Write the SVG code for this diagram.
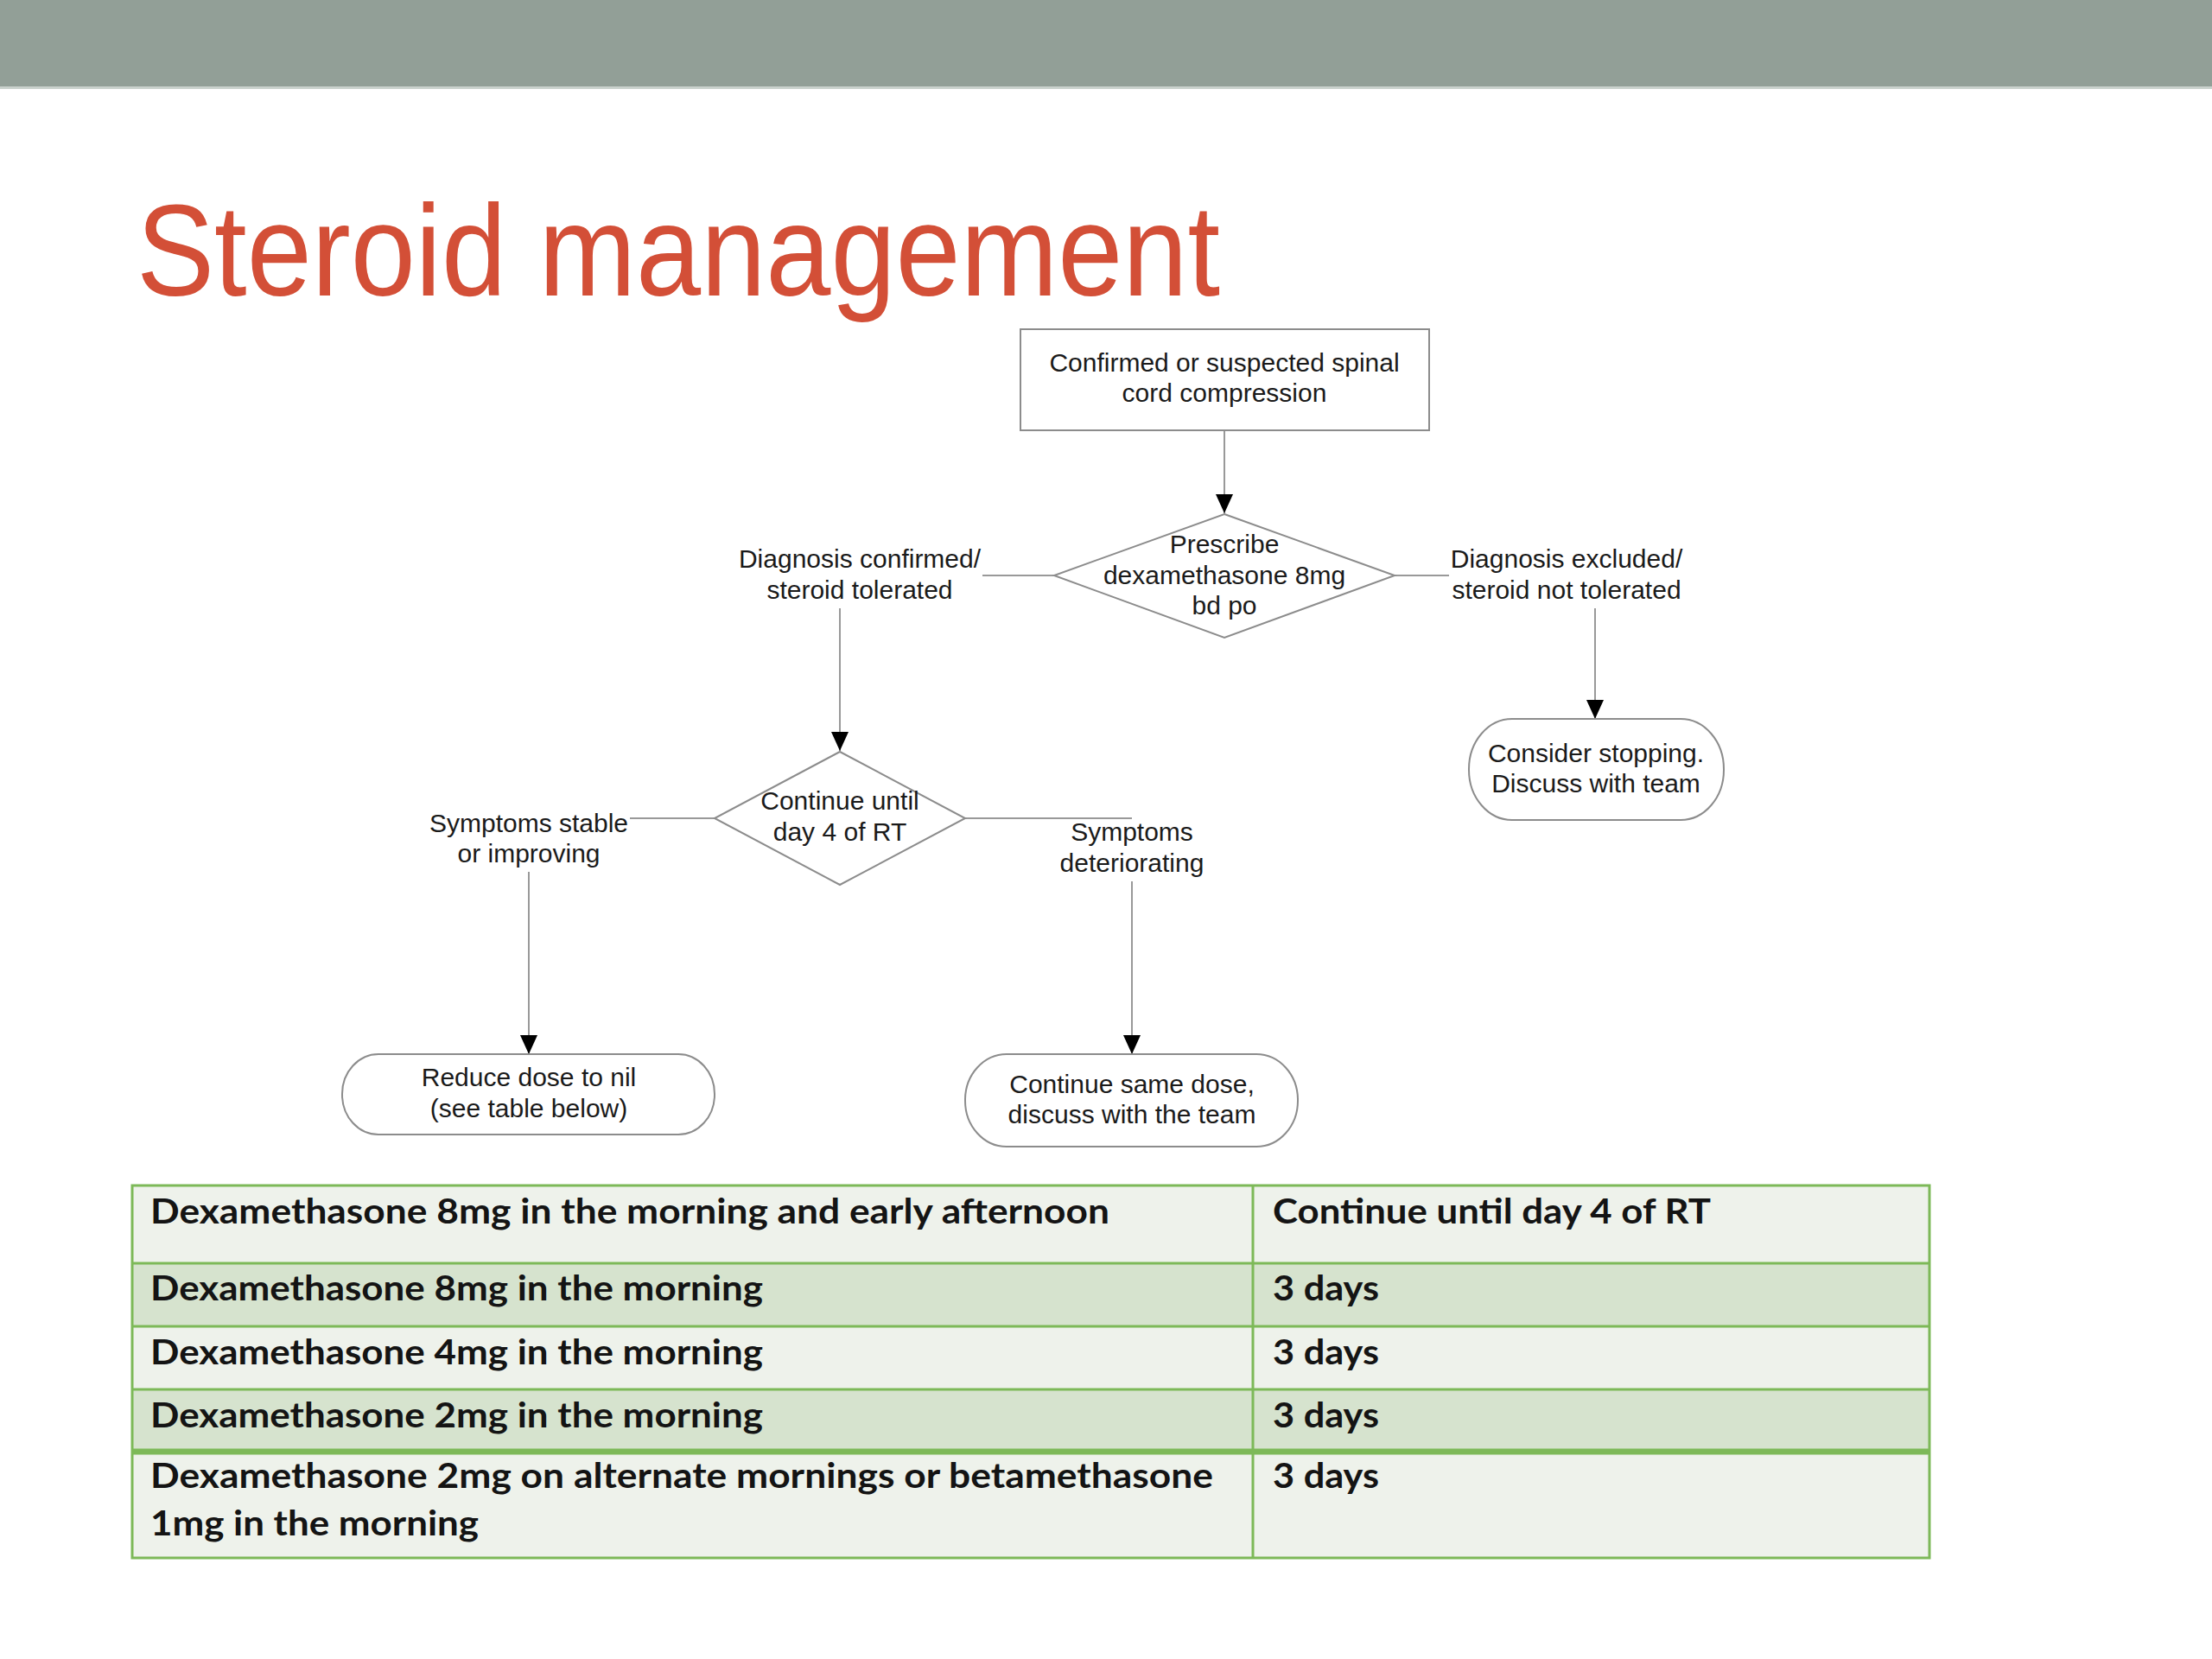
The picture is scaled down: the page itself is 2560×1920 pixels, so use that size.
<svg xmlns="http://www.w3.org/2000/svg" width="2560" height="1920" viewBox="0 0 2560 1920">
<defs>
<style>
.node{fill:#fff;stroke:#8c8c8c;stroke-width:2}
.lbl{font-family:"Liberation Sans",Arial,sans-serif;font-size:30px;fill:#1a1a1a;text-anchor:middle}
.conn{fill:none;stroke:#999;stroke-width:2}
.tt{font-family:Lato,"Open Sans",sans-serif;font-weight:700;font-size:40px;fill:#141414}
.grid{stroke:#7db958;stroke-width:3;fill:none}
.light{fill:#eef2eb}
.dark{fill:#d6e3ce}
</style>
<marker id="arr" viewBox="0 0 22 20" refX="22" refY="10" markerWidth="22" markerHeight="20" markerUnits="userSpaceOnUse" orient="auto">
<path d="M0,0 L22,10 L0,20 z" fill="#000"/>
</marker>
</defs>
<rect width="2560" height="1920" fill="#fff"/>
<g id="header">
<rect x="0" y="0" width="2560" height="100" fill="#929f97"/>
<rect x="0" y="100" width="2560" height="3" fill="#c9d1cc"/>
</g>
<text id="title" x="158" y="342" font-family="'Liberation Sans',Arial,sans-serif" font-size="150" fill="#d34f37" textLength="1254" lengthAdjust="spacingAndGlyphs">Steroid management</text>

<g id="connectors">
<path class="conn" d="M1417,498 V594" marker-end="url(#arr)"/>
<path class="conn" d="M1220,666 H1137"/>
<path class="conn" d="M972,704 V869" marker-end="url(#arr)"/>
<path class="conn" d="M1614,666 H1677"/>
<path class="conn" d="M1846,704 V832" marker-end="url(#arr)"/>
<path class="conn" d="M827,947 H729"/>
<path class="conn" d="M612,1009 V1220" marker-end="url(#arr)"/>
<path class="conn" d="M1117,947 H1310"/>
<path class="conn" d="M1310,1020 V1220" marker-end="url(#arr)"/>
</g>

<g id="edge-labels">
<text class="lbl" x="995" y="657">Diagnosis confirmed/</text>
<text class="lbl" x="995" y="693">steroid tolerated</text>
<text class="lbl" x="1813" y="657">Diagnosis excluded/</text>
<text class="lbl" x="1813" y="693">steroid not tolerated</text>
<text class="lbl" x="612" y="963">Symptoms stable</text>
<text class="lbl" x="612" y="998">or improving</text>
<text class="lbl" x="1310" y="973">Symptoms</text>
<text class="lbl" x="1310" y="1009">deteriorating</text>
</g>

<g id="node-start">
<rect class="node" x="1181" y="381" width="473" height="117"/>
<text class="lbl" x="1417" y="430">Confirmed or suspected spinal</text>
<text class="lbl" x="1417" y="465">cord compression</text>
</g>
<g id="node-prescribe">
<polygon class="node" points="1417,595 1614,666 1417,738 1220,666"/>
<text class="lbl" x="1417" y="640">Prescribe</text>
<text class="lbl" x="1417" y="676">dexamethasone 8mg</text>
<text class="lbl" x="1417" y="711">bd po</text>
</g>
<g id="node-stop">
<rect class="node" x="1700" y="832" width="295" height="117" rx="50" ry="58"/>
<text class="lbl" x="1847" y="882">Consider stopping.</text>
<text class="lbl" x="1847" y="917">Discuss with team</text>
</g>
<g id="node-continue">
<polygon class="node" points="972,870 1117,947 972,1024 827,947"/>
<text class="lbl" x="972" y="937">Continue until</text>
<text class="lbl" x="972" y="973">day 4 of RT</text>
</g>
<g id="node-reduce">
<rect class="node" x="396" y="1220" width="431" height="93" rx="42" ry="46"/>
<text class="lbl" x="612" y="1257">Reduce dose to nil</text>
<text class="lbl" x="612" y="1293">(see table below)</text>
</g>
<g id="node-same">
<rect class="node" x="1117" y="1220" width="385" height="107" rx="48" ry="53"/>
<text class="lbl" x="1310" y="1265">Continue same dose,</text>
<text class="lbl" x="1310" y="1300">discuss with the team</text>
</g>

<g id="dose-table">
<rect class="light" x="153" y="1372" width="2080" height="90"/>
<rect class="dark" x="153" y="1462" width="2080" height="73"/>
<rect class="light" x="153" y="1535" width="2080" height="73"/>
<rect class="dark" x="153" y="1608" width="2080" height="72"/>
<rect class="light" x="153" y="1680" width="2080" height="123"/>
<rect class="grid" x="153" y="1372" width="2080" height="431"/>
<path class="grid" d="M153,1462 H2233 M153,1535 H2233 M153,1608 H2233 M1450,1372 V1803"/>
<path class="grid" d="M153,1680 H2233" style="stroke-width:7"/>
<text class="tt" x="174" y="1416" textLength="1110" lengthAdjust="spacingAndGlyphs">Dexamethasone 8mg in the morning and early afternoon</text>
<text class="tt" x="1473" y="1416" textLength="507" lengthAdjust="spacingAndGlyphs">Continue until day 4 of RT</text>
<text class="tt" x="174" y="1505" textLength="709" lengthAdjust="spacingAndGlyphs">Dexamethasone 8mg in the morning</text>
<text class="tt" x="1473" y="1505" textLength="123" lengthAdjust="spacingAndGlyphs">3 days</text>
<text class="tt" x="174" y="1579" textLength="709" lengthAdjust="spacingAndGlyphs">Dexamethasone 4mg in the morning</text>
<text class="tt" x="1473" y="1579" textLength="123" lengthAdjust="spacingAndGlyphs">3 days</text>
<text class="tt" x="174" y="1652" textLength="709" lengthAdjust="spacingAndGlyphs">Dexamethasone 2mg in the morning</text>
<text class="tt" x="1473" y="1652" textLength="123" lengthAdjust="spacingAndGlyphs">3 days</text>
<text class="tt" x="174" y="1722" textLength="1230" lengthAdjust="spacingAndGlyphs">Dexamethasone 2mg on alternate mornings or betamethasone</text>
<text class="tt" x="174" y="1777" textLength="380" lengthAdjust="spacingAndGlyphs">1mg in the morning</text>
<text class="tt" x="1473" y="1722" textLength="123" lengthAdjust="spacingAndGlyphs">3 days</text>
</g>
</svg>
